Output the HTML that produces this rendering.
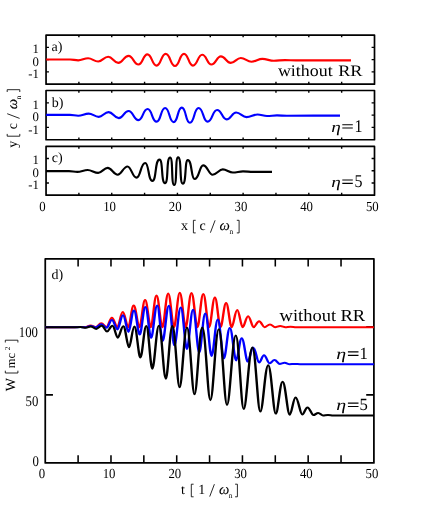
<!DOCTYPE html>
<html><head><meta charset="utf-8"><title>figure</title>
<style>html,body{margin:0;padding:0;background:#fff;}body{width:421px;height:513px;overflow:hidden;font-family:"Liberation Serif",serif;}svg{display:block;}</style></head>
<body>
<svg width="421" height="513" viewBox="0 0 421 513">
<rect width="421" height="513" fill="#fff"/>
<g fill="none" stroke="#000" stroke-width="1.70" stroke-linejoin="round">
<rect x="46.05" y="35.05" width="328.45" height="49.10"/>
<rect x="46.05" y="90.50" width="328.45" height="49.25"/>
<rect x="46.05" y="146.40" width="328.45" height="48.75"/>
</g>
<g stroke="#000" stroke-width="1.40">
<path d="M78.89 35.05v2.30M78.89 84.15v-2.30"/>
<path d="M111.74 35.05v2.30M111.74 84.15v-2.30"/>
<path d="M144.58 35.05v2.30M144.58 84.15v-2.30"/>
<path d="M177.43 35.05v2.30M177.43 84.15v-2.30"/>
<path d="M210.27 35.05v2.30M210.27 84.15v-2.30"/>
<path d="M243.12 35.05v2.30M243.12 84.15v-2.30"/>
<path d="M275.96 35.05v2.30M275.96 84.15v-2.30"/>
<path d="M308.81 35.05v2.30M308.81 84.15v-2.30"/>
<path d="M341.66 35.05v2.30M341.66 84.15v-2.30"/>
<path d="M46.05 71.85h2.90M374.50 71.85h-2.90"/>
<path d="M46.05 59.60h2.90M374.50 59.60h-2.90"/>
<path d="M46.05 47.35h2.90M374.50 47.35h-2.90"/>
<path d="M78.89 90.50v2.30M78.89 139.75v-2.30"/>
<path d="M111.74 90.50v2.30M111.74 139.75v-2.30"/>
<path d="M144.58 90.50v2.30M144.58 139.75v-2.30"/>
<path d="M177.43 90.50v2.30M177.43 139.75v-2.30"/>
<path d="M210.27 90.50v2.30M210.27 139.75v-2.30"/>
<path d="M243.12 90.50v2.30M243.12 139.75v-2.30"/>
<path d="M275.96 90.50v2.30M275.96 139.75v-2.30"/>
<path d="M308.81 90.50v2.30M308.81 139.75v-2.30"/>
<path d="M341.66 90.50v2.30M341.66 139.75v-2.30"/>
<path d="M46.05 127.38h2.90M374.50 127.38h-2.90"/>
<path d="M46.05 115.12h2.90M374.50 115.12h-2.90"/>
<path d="M46.05 102.88h2.90M374.50 102.88h-2.90"/>
<path d="M78.89 146.40v2.30M78.89 195.15v-2.30"/>
<path d="M111.74 146.40v2.30M111.74 195.15v-2.30"/>
<path d="M144.58 146.40v2.30M144.58 195.15v-2.30"/>
<path d="M177.43 146.40v2.30M177.43 195.15v-2.30"/>
<path d="M210.27 146.40v2.30M210.27 195.15v-2.30"/>
<path d="M243.12 146.40v2.30M243.12 195.15v-2.30"/>
<path d="M275.96 146.40v2.30M275.96 195.15v-2.30"/>
<path d="M308.81 146.40v2.30M308.81 195.15v-2.30"/>
<path d="M341.66 146.40v2.30M341.66 195.15v-2.30"/>
<path d="M46.05 183.03h2.90M374.50 183.03h-2.90"/>
<path d="M46.05 170.78h2.90M374.50 170.78h-2.90"/>
<path d="M46.05 158.53h2.90M374.50 158.53h-2.90"/>
</g>
<rect x="45.25" y="258.80" width="328.65" height="204.10" fill="none" stroke="#000" stroke-width="1.75" stroke-linejoin="round"/>
<g stroke="#000" stroke-width="1.55">
<path d="M78.11 258.80v7.70M78.11 462.90v-7.70"/>
<path d="M110.98 258.80v7.70M110.98 462.90v-7.70"/>
<path d="M143.84 258.80v7.70M143.84 462.90v-7.70"/>
<path d="M176.71 258.80v7.70M176.71 462.90v-7.70"/>
<path d="M209.57 258.80v7.70M209.57 462.90v-7.70"/>
<path d="M242.44 258.80v7.70M242.44 462.90v-7.70"/>
<path d="M275.30 258.80v7.70M275.30 462.90v-7.70"/>
<path d="M308.17 258.80v7.70M308.17 462.90v-7.70"/>
<path d="M341.03 258.80v7.70M341.03 462.90v-7.70"/>
<path d="M45.25 394.87h7.70M373.90 394.87h-7.70"/>
<path d="M45.25 326.83h7.70M373.90 326.83h-7.70"/>
</g>
<g fill="none" stroke-width="2.15" stroke-linejoin="round" stroke-linecap="butt">
<path stroke="#f00" d="M46.15 59.48C54.84 59.48 61.19 59.48 70.00 59.48C73.03 59.48 75.06 60.33 78.20 60.33C81.99 60.33 84.16 58.20 88.10 58.20C92.12 58.20 94.02 61.51 98.20 61.51C102.34 61.51 103.88 56.80 108.20 56.80C112.56 56.80 113.79 62.90 118.30 62.90C122.90 62.90 123.84 55.84 128.60 55.84C133.18 55.84 133.73 64.51 138.50 64.51C142.79 64.51 142.97 54.34 147.40 54.34C151.98 54.34 151.93 65.58 156.60 65.58C161.22 65.58 161.02 53.81 165.70 53.81C170.48 53.81 170.19 66.01 175.00 66.01C179.65 66.01 179.37 53.81 184.00 53.81C188.57 53.81 188.40 65.58 192.90 65.58C197.60 65.58 197.62 54.77 202.20 54.77C206.73 54.77 207.02 64.51 211.40 64.51C215.92 64.51 216.57 56.38 220.90 56.38C225.37 56.38 226.43 62.90 230.70 62.90C235.10 62.90 236.57 57.98 240.80 57.98C245.23 57.98 247.11 61.73 251.40 61.73C255.85 61.73 258.08 58.94 262.40 58.94C266.88 58.94 269.47 60.76 273.80 60.76C278.05 60.76 280.85 60.12 285.00 60.12C289.07 60.12 291.96 60.44 296.00 60.44C316.18 60.44 330.90 60.33 351.00 60.33"/>
<path stroke="#00f" d="M46.15 114.89C54.84 114.89 61.19 114.89 70.00 114.89C73.03 114.89 75.06 115.72 78.20 115.72C82.22 115.72 84.52 113.55 88.70 113.55C92.68 113.55 94.56 116.85 98.70 116.85C102.80 116.85 104.33 112.11 108.60 112.11C113.00 112.11 114.24 118.19 118.80 118.19C123.18 118.19 124.03 110.98 128.60 110.98C133.22 110.98 133.64 120.15 138.50 120.15C142.97 120.15 142.93 109.02 147.60 109.02C152.22 109.02 151.84 121.69 156.60 121.69C161.10 121.69 160.53 107.99 165.10 107.99C169.73 107.99 169.03 122.10 173.70 122.10C178.10 122.10 177.35 107.58 181.80 107.58C186.25 107.58 185.44 122.72 189.90 122.72C194.69 122.72 193.89 107.99 198.60 107.99C203.48 107.99 202.89 121.69 207.60 121.69C212.57 121.69 212.39 109.95 217.10 109.95C221.81 109.95 222.18 119.32 226.60 119.32C231.02 119.32 231.96 112.52 236.10 112.52C240.63 112.52 242.24 117.16 246.50 117.16C251.01 117.16 253.20 114.48 257.50 114.48C261.21 114.48 263.41 116.03 267.00 116.03C270.78 116.03 273.30 115.41 277.00 115.41C280.70 115.41 283.33 115.72 287.00 115.72C306.44 115.72 320.63 115.61 340.00 115.61"/>
<path stroke="#000" d="M46.15 171.09C54.47 171.09 60.68 171.09 69.00 171.09C72.02 171.09 74.27 171.92 77.30 171.92C81.10 171.92 83.87 169.96 87.70 169.96C91.56 169.96 94.28 172.84 98.20 172.84C101.75 172.84 104.04 167.90 107.70 167.90C111.56 167.90 113.71 174.70 117.70 174.70C121.61 174.70 123.36 166.46 127.50 166.46C131.35 166.46 132.34 177.69 136.60 177.69C140.63 177.69 140.65 162.96 145.20 162.96C149.01 162.96 148.07 180.88 152.40 180.88C156.67 180.88 154.72 159.66 159.50 159.66C163.21 159.66 160.95 183.15 165.00 183.15C168.76 183.15 166.03 157.60 170.10 157.60C173.37 157.60 170.92 185.00 174.20 185.00C177.32 185.00 174.98 157.40 178.10 157.40C181.86 157.40 179.28 183.66 182.80 183.66C186.55 183.66 184.58 160.07 187.80 160.07C192.18 160.07 191.01 179.03 194.60 179.03C199.14 179.03 199.37 165.43 203.20 165.43C207.39 165.43 208.86 174.70 212.60 174.70C216.65 174.70 218.97 169.34 222.80 169.34C226.56 169.34 229.13 172.54 232.80 172.54C236.54 172.54 239.28 171.40 243.00 171.40C246.65 171.40 249.36 171.92 253.00 171.92C259.92 171.92 265.08 171.81 272.00 171.81"/>
</g>
<g fill="none" stroke-width="2.0" stroke-linejoin="round" stroke-linecap="butt" transform="scale(1.200 1)">
<path stroke="#f00" d="M37.71 327.20C43.96 327.20 48.02 327.20 53.33 327.20C54.89 327.20 56.08 327.15 57.92 327.15C59.67 327.15 60.80 327.20 62.29 327.20C63.78 327.20 64.92 327.00 66.67 327.00C68.43 327.00 69.58 327.20 71.08 327.20C72.58 327.20 73.73 325.60 75.50 325.60C77.27 325.60 78.42 327.20 79.92 327.20C81.42 327.20 82.57 323.30 84.33 323.30C86.12 323.30 87.28 327.20 88.79 327.20C90.31 327.20 91.47 317.80 93.25 317.80C95.07 317.80 96.25 327.20 97.79 327.20C99.34 327.20 100.52 312.10 102.33 312.10C104.15 312.10 105.33 327.20 106.88 327.20C108.42 327.20 109.60 305.60 111.42 305.60C113.32 305.60 114.55 327.20 116.17 327.20C117.78 327.20 119.02 300.10 120.92 300.10C122.82 300.10 124.05 327.20 125.67 327.20C127.28 327.20 128.52 295.60 130.42 295.60C132.37 295.60 133.63 327.20 135.29 327.20C136.95 327.20 138.22 293.60 140.17 293.60C142.10 293.60 143.36 327.20 145.00 327.20C146.64 327.20 147.90 292.80 149.83 292.80C151.78 292.80 153.05 327.20 154.71 327.20C156.37 327.20 157.63 293.00 159.58 293.00C161.55 293.00 162.83 327.20 164.50 327.20C166.17 327.20 167.45 294.10 169.42 294.10C171.35 294.10 172.61 327.20 174.25 327.20C175.89 327.20 177.15 297.60 179.08 297.60C180.95 297.60 182.16 327.20 183.75 327.20C185.34 327.20 186.55 303.00 188.42 303.00C190.27 303.00 191.47 327.20 193.04 327.20C194.61 327.20 195.82 309.90 197.67 309.90C199.48 309.90 200.66 327.20 202.21 327.20C203.75 327.20 204.93 316.20 206.75 316.20C208.58 316.20 209.78 327.20 211.33 327.20C212.89 327.20 214.08 321.30 215.92 321.30C217.73 321.30 218.91 327.20 220.46 327.20C222.00 327.20 223.18 324.40 225.00 324.40C226.70 324.40 227.81 327.20 229.25 327.20C230.70 327.20 231.80 326.00 233.50 326.00C235.22 326.00 236.33 327.20 237.79 327.20C239.25 327.20 240.37 326.70 242.08 326.70C243.92 326.70 245.11 327.20 246.67 327.20C268.74 327.20 285.62 327.20 311.58 327.20"/>
<path stroke="#00f" d="M37.71 327.20C43.96 327.20 48.02 327.20 53.33 327.20C54.89 327.20 56.08 327.15 57.92 327.15C59.65 327.15 60.78 327.20 62.25 327.20C63.75 327.20 64.90 327.05 66.67 327.05C68.43 327.05 69.58 327.25 71.08 327.25C72.58 327.25 73.73 326.00 75.50 326.00C77.27 326.00 78.42 327.40 79.92 327.40C81.42 327.40 82.57 324.20 84.33 324.20C86.17 324.20 87.36 327.70 88.92 327.70C90.39 327.70 91.52 320.00 93.25 320.00C95.08 320.00 96.28 329.40 97.83 329.40C99.42 329.40 100.63 315.20 102.50 315.20C104.33 315.20 105.53 331.90 107.08 331.90C108.64 331.90 109.83 310.50 111.67 310.50C113.57 310.50 114.80 334.60 116.42 334.60C118.03 334.60 119.27 307.00 121.17 307.00C123.07 307.00 124.30 337.80 125.92 337.80C127.64 337.80 128.97 305.40 131.00 305.40C132.80 305.40 133.97 341.00 135.50 341.00C137.28 341.00 138.65 305.70 140.75 305.70C142.58 305.70 143.78 345.30 145.33 345.30C147.15 345.30 148.53 307.60 150.67 307.60C152.70 307.60 154.02 348.90 155.75 348.90C157.51 348.90 158.85 309.80 160.92 309.80C162.95 309.80 164.27 352.40 166.00 352.40C167.73 352.40 169.05 313.60 171.08 313.60C173.18 313.60 174.55 356.00 176.33 356.00C178.09 356.00 179.43 319.60 181.50 319.60C183.53 319.60 184.86 358.40 186.58 358.40C188.26 358.40 189.53 327.90 191.50 327.90C193.63 327.90 195.02 360.40 196.83 360.40C198.39 360.40 199.58 338.20 201.42 338.20C203.45 338.20 204.77 361.60 206.50 361.60C208.00 361.60 209.15 347.50 210.92 347.50C212.95 347.50 214.27 362.50 216.00 362.50C217.36 362.50 218.40 355.20 220.00 355.20C221.83 355.20 223.03 363.30 224.58 363.30C226.00 363.30 227.08 360.10 228.75 360.10C230.52 360.10 231.66 363.90 233.17 363.90C234.53 363.90 235.57 362.80 237.17 362.80C238.87 362.80 239.97 364.20 241.42 364.20C242.78 364.20 243.82 363.90 245.42 363.90C247.25 363.90 248.44 364.20 250.00 364.20C270.94 364.20 286.95 364.20 311.58 364.20"/>
<path stroke="#000" d="M37.71 327.20C43.96 327.20 48.02 327.20 53.33 327.20C55.03 327.20 56.33 327.15 58.33 327.15C60.00 327.15 61.08 327.25 62.50 327.25C64.00 327.25 65.15 327.00 66.92 327.00C68.82 327.00 70.05 327.80 71.67 327.80C73.03 327.80 74.07 326.50 75.67 326.50C77.50 326.50 78.69 328.90 80.25 328.90C81.81 328.90 83.00 325.80 84.83 325.80C86.57 325.80 87.69 331.60 89.17 331.60C90.70 331.60 91.87 325.80 93.67 325.80C95.47 325.80 96.64 337.70 98.17 337.70C99.73 337.70 100.92 326.20 102.75 326.20C104.65 326.20 105.89 347.30 107.50 347.30C109.03 347.30 110.20 326.60 112.00 326.60C114.00 326.60 115.30 357.50 117.00 357.50C118.67 357.50 119.95 326.00 121.92 326.00C123.92 326.00 125.22 368.70 126.92 368.70C128.79 368.70 130.22 325.80 132.42 325.80C134.72 325.80 136.21 378.70 138.17 378.70C140.04 378.70 141.47 326.00 143.67 326.00C146.07 326.00 147.63 387.20 149.67 387.20C151.76 387.20 153.37 327.50 155.83 327.50C158.33 327.50 159.96 394.30 162.08 394.30C164.29 394.30 165.98 327.60 168.58 327.60C171.28 327.60 173.04 400.20 175.33 400.20C177.71 400.20 179.53 329.30 182.33 329.30C185.07 329.30 186.84 404.90 189.17 404.90C191.66 404.90 193.57 335.40 196.50 335.40C199.13 335.40 200.85 409.00 203.08 409.00C205.55 409.00 207.43 347.60 210.33 347.60C212.97 347.60 214.68 411.60 216.92 411.60C219.16 411.60 220.87 365.20 223.50 365.20C226.03 365.20 227.68 413.60 229.83 413.60C231.76 413.60 233.23 381.70 235.50 381.70C237.87 381.70 239.41 414.70 241.42 414.70C243.09 414.70 244.37 397.40 246.33 397.40C248.57 397.40 250.02 414.60 251.92 414.60C253.39 414.60 254.52 407.40 256.25 407.40C258.22 407.40 259.50 415.10 261.17 415.10C262.53 415.10 263.57 413.00 265.17 413.00C266.77 413.00 267.81 415.40 269.17 415.40C270.58 415.40 271.67 414.90 273.33 414.90C275.00 414.90 276.08 415.40 277.50 415.40C289.09 415.40 297.95 415.40 311.58 415.40"/>
</g>
<g font-family="'Liberation Serif', serif" fill="#000" opacity="0.999" text-rendering="geometricPrecision">
<text transform="translate(38.80 53.05) scale(1.000 1.020)" font-size="12.80" text-anchor="end">1</text>
<text transform="translate(38.80 65.90) scale(1.000 1.020)" font-size="12.80" text-anchor="end">0</text>
<text transform="translate(38.80 78.15) scale(1.000 1.020)" font-size="12.80" text-anchor="end">-1</text>
<text transform="translate(38.80 108.58) scale(1.000 1.020)" font-size="12.80" text-anchor="end">1</text>
<text transform="translate(38.80 121.42) scale(1.000 1.020)" font-size="12.80" text-anchor="end">0</text>
<text transform="translate(38.80 133.68) scale(1.000 1.020)" font-size="12.80" text-anchor="end">-1</text>
<text transform="translate(38.80 164.23) scale(1.000 1.020)" font-size="12.80" text-anchor="end">1</text>
<text transform="translate(38.80 177.08) scale(1.000 1.020)" font-size="12.80" text-anchor="end">0</text>
<text transform="translate(38.80 189.33) scale(1.000 1.020)" font-size="12.80" text-anchor="end">-1</text>
<text transform="translate(42.55 210.60) scale(1.000 1.080)" font-size="12.80" text-anchor="middle">0</text>
<text transform="translate(109.54 210.60) scale(1.000 1.080)" font-size="12.80" text-anchor="middle">10</text>
<text transform="translate(175.23 210.60) scale(1.000 1.080)" font-size="12.80" text-anchor="middle">20</text>
<text transform="translate(240.92 210.60) scale(1.000 1.080)" font-size="12.80" text-anchor="middle">30</text>
<text transform="translate(306.61 210.60) scale(1.000 1.080)" font-size="12.80" text-anchor="middle">40</text>
<text transform="translate(372.30 210.60) scale(1.000 1.080)" font-size="12.80" text-anchor="middle">50</text>
<text transform="translate(42.05 478.30) scale(1.000 1.080)" font-size="12.80" text-anchor="middle">0</text>
<text transform="translate(109.08 478.30) scale(1.000 1.080)" font-size="12.80" text-anchor="middle">10</text>
<text transform="translate(174.81 478.30) scale(1.000 1.080)" font-size="12.80" text-anchor="middle">20</text>
<text transform="translate(240.54 478.30) scale(1.000 1.080)" font-size="12.80" text-anchor="middle">30</text>
<text transform="translate(306.27 478.30) scale(1.000 1.080)" font-size="12.80" text-anchor="middle">40</text>
<text transform="translate(372.00 478.30) scale(1.000 1.080)" font-size="12.80" text-anchor="middle">50</text>
<text transform="translate(38.80 466.40) scale(1.000 1.150)" font-size="12.80" text-anchor="end">0</text>
<text transform="translate(38.30 405.50) scale(1.000 1.150)" font-size="12.80" text-anchor="end">50</text>
<text transform="translate(38.00 336.80) scale(1.000 1.150)" font-size="12.80" text-anchor="end">100</text>
<text transform="translate(51.60 51.20) scale(1.000 1.000)" font-size="14.00" text-anchor="start">a)</text>
<text transform="translate(51.80 106.90) scale(1.000 1.000)" font-size="14.00" text-anchor="start">b)</text>
<text transform="translate(51.80 162.10) scale(1.000 1.000)" font-size="14.00" text-anchor="start">c)</text>
<text transform="translate(51.60 279.20) scale(1.000 1.000)" font-size="14.00" text-anchor="start">d)</text>
<text transform="translate(277.90 75.60) scale(1.100 1.000)" font-size="16.30" text-anchor="start">without</text>
<text transform="translate(338.20 75.60) scale(1.140 1.000)" font-size="16.00" text-anchor="start">RR</text>
<text transform="translate(279.60 320.75) scale(1.075 1.000)" font-size="17.20" text-anchor="start">without</text>
<text transform="translate(340.40 320.75) scale(1.100 1.000)" font-size="16.90" text-anchor="start">RR</text>
<text transform="translate(331.20 131.70) scale(1.040 0.830)" font-size="18.50" text-anchor="start" font-style="italic">η</text>
<path d="M342.30 124.70h10.5M342.30 128.00h10.5" stroke="#000" stroke-width="1.15" fill="none"/>
<text transform="translate(354.60 131.70) scale(1.000 1.120)" font-size="16.00" text-anchor="start">1</text>
<text transform="translate(331.20 187.00) scale(1.040 0.830)" font-size="18.50" text-anchor="start" font-style="italic">η</text>
<path d="M342.30 180.00h10.5M342.30 183.30h10.5" stroke="#000" stroke-width="1.15" fill="none"/>
<text transform="translate(354.60 187.00) scale(1.000 1.120)" font-size="16.00" text-anchor="start">5</text>
<text transform="translate(336.30 358.70) scale(1.040 0.810)" font-size="19.20" text-anchor="start" font-style="italic">η</text>
<path d="M347.90 351.90h10.6M347.90 355.30h10.6" stroke="#000" stroke-width="1.15" fill="none"/>
<text transform="translate(359.40 358.70) scale(1.000 1.020)" font-size="16.70" text-anchor="start">1</text>
<text transform="translate(336.30 409.90) scale(1.040 0.810)" font-size="19.20" text-anchor="start" font-style="italic">η</text>
<path d="M347.90 403.10h10.6M347.90 406.50h10.6" stroke="#000" stroke-width="1.15" fill="none"/>
<text transform="translate(359.40 409.90) scale(1.000 1.020)" font-size="16.70" text-anchor="start">5</text>
<g transform="translate(181.2 230.2)"><text x="-0.20" y="0" font-size="14.0">x</text><text x="18.40" y="0" font-size="14.0">c</text><path d="M14.50 -9.9H12.20V2.7H14.50M55.60 -9.9H57.90V2.7H55.60M29.2 2.5L33.9 -9.9" fill="none" stroke="#000" stroke-width="0.85"/><text x="38.4" y="0" font-size="14.6" font-style="italic" stroke="#000" stroke-width="0.12">ω</text><text x="48.2" y="3.6" font-size="7.5">n</text></g>
<g transform="translate(180.5 494.1)"><text x="0.60" y="0" font-size="14.0">t</text><text x="17.80" y="0" font-size="14.0">1</text><path d="M13.10 -9.9H10.80V2.7H13.10M54.60 -9.9H56.90V2.7H54.60M29.2 2.5L33.9 -9.9" fill="none" stroke="#000" stroke-width="0.85"/><text x="38.4" y="0" font-size="14.6" font-style="italic" stroke="#000" stroke-width="0.12">ω</text><text x="48.2" y="3.6" font-size="7.5">n</text></g>
<g transform="translate(17.1 147.6) rotate(-90)"><text x="-0.20" y="0" font-size="14.0">y</text><text x="18.40" y="0" font-size="14.0">c</text><path d="M13.70 -9.9H11.40V2.7H13.70M55.60 -9.9H57.90V2.7H55.60M29.2 2.5L33.9 -9.9" fill="none" stroke="#000" stroke-width="0.85"/><text x="38.4" y="0" font-size="14.6" font-style="italic" stroke="#000" stroke-width="0.12">ω</text><text x="48.2" y="3.6" font-size="7.5">n</text></g>
<g transform="translate(15.2 391.1) rotate(-90)"><text x="-0.2" y="0" font-size="14.0">W</text><text x="22.8" y="0" font-size="12.5">mc</text><text x="40.8" y="-5.0" font-size="7.5">2</text><path d="M20.40 -9.9H18.10V2.7H20.40M48.60 -9.9H50.90V2.7H48.60" fill="none" stroke="#000" stroke-width="0.85"/></g>
</g>
</svg>
</body></html>
